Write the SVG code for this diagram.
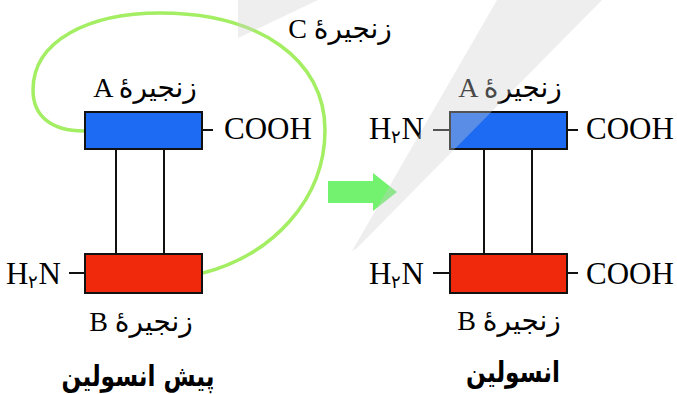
<svg xmlns="http://www.w3.org/2000/svg" width="677" height="394" viewBox="0 0 677 394">
<style>
.lat{font-family:"Liberation Serif","DejaVu Serif",serif;font-size:31px;fill:#000}
.lbl{font-family:"Liberation Serif","DejaVu Sans",serif;font-size:28px;fill:#000}
.ttl{font-family:"DejaVu Sans","Liberation Sans",sans-serif;font-size:29px;font-weight:bold;fill:#000}
.blue{fill:#1d6bf2;stroke:#111;stroke-width:2}
.red{fill:#f0280c;stroke:#111;stroke-width:2}
.ln{stroke:#111;stroke-width:2;fill:none}
.loop{stroke:#a3ee63;stroke-width:3.5;fill:none}
.sub{font-size:18px}
.band{fill:#cfcfcf;opacity:0.35}
</style>
<rect width="677" height="394" fill="#fff"/>
<g id="connectors">
  <path class="loop" d="M84,131 C50,131 33,115 33,90 C33,40 90,13 160,13 C260,13 325,60 325,130 C325,200 272,255 203,273"/>
  <line class="ln" x1="116" y1="149" x2="116" y2="254"/>
  <line class="ln" x1="164" y1="149" x2="164" y2="254"/>
  <line class="ln" x1="484" y1="149" x2="484" y2="254"/>
  <line class="ln" x1="532" y1="149" x2="532" y2="254"/>
  <line class="ln" x1="202" y1="130" x2="213" y2="130"/>
  <line class="ln" x1="69" y1="273" x2="85" y2="273"/>
  <line class="ln" x1="433" y1="130" x2="450" y2="130"/>
  <line class="ln" x1="567" y1="130" x2="578" y2="130"/>
  <line class="ln" x1="433" y1="273" x2="450" y2="273"/>
  <line class="ln" x1="567" y1="273" x2="578" y2="273"/>
  <polygon id="arrow" points="328,181 373,181 373,173 397,192 373,211 373,203 328,203" fill="#72f26e"/>
</g>
<g id="proinsulin">
  <g id="p-chainA">
    <rect class="blue" x="85" y="112" width="117" height="37"/>
    <text class="lbl" x="145" y="97" text-anchor="middle">A زنجیرۀ</text>
    <text class="lat" x="224" y="139">COOH</text>
  </g>
  <g id="p-chainB">
    <rect class="red" x="85" y="254" width="117" height="39"/>
    <text class="lat" x="6" y="284">H<tspan class="sub" dy="4">۲</tspan><tspan dy="-4">N</tspan></text>
    <text class="lbl" x="141" y="331" text-anchor="middle">B زنجیرۀ</text>
  </g>
  <g id="p-chainC">
    <text class="lbl" x="340" y="38" text-anchor="middle">C زنجیرۀ</text>
  </g>
  <text class="ttl" transform="translate(138,386) scale(0.8,1)" text-anchor="middle">پیش انسولین</text>
</g>
<g id="insulin">
  <g id="i-chainA">
    <rect class="blue" x="450" y="112" width="117" height="37"/>
    <text class="lbl" x="510" y="97" text-anchor="middle">A زنجیرۀ</text>
    <text class="lat" x="369" y="139">H<tspan class="sub" dy="4">۲</tspan><tspan dy="-4">N</tspan></text>
    <text class="lat" x="586" y="139">COOH</text>
  </g>
  <g id="i-chainB">
    <rect class="red" x="450" y="254" width="117" height="39"/>
    <text class="lat" x="369" y="284">H<tspan class="sub" dy="4">۲</tspan><tspan dy="-4">N</tspan></text>
    <text class="lat" x="586" y="284">COOH</text>
    <text class="lbl" x="509" y="330" text-anchor="middle">B زنجیرۀ</text>
  </g>
  <text class="ttl" transform="translate(513,382) scale(0.8,1)" text-anchor="middle">انسولین</text>
</g>
<g id="watermark">
  <polygon class="band" points="497,0 602,0 356,249 352,251"/>
  <polygon class="band" points="238,0 318,0 238,38"/>
</g>
</svg>
